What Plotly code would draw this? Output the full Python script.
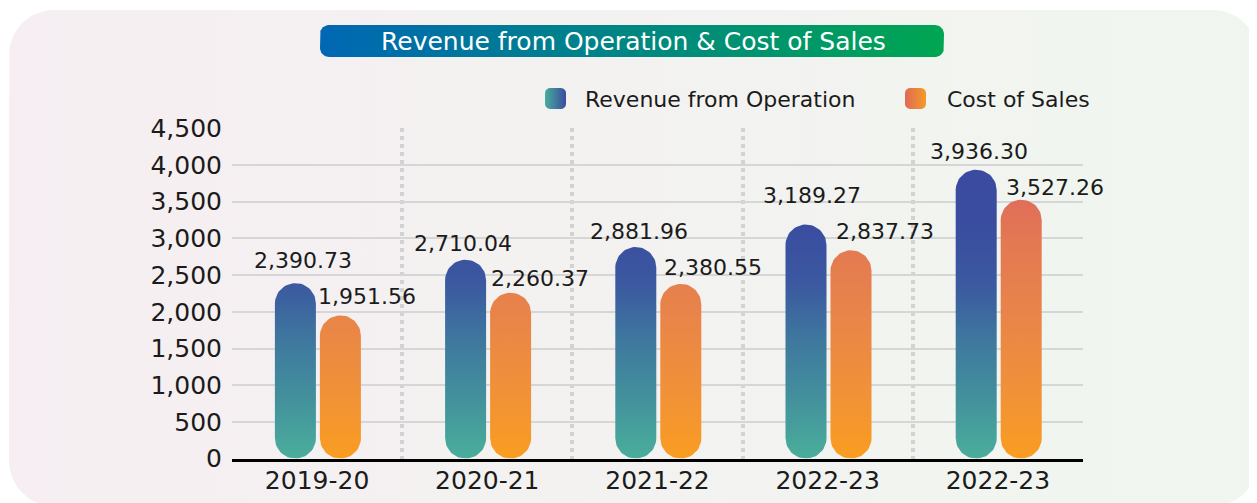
import numpy as np
import plotly.graph_objects as go

# ---------------- data ----------------
years = ["2019-20", "2020-21", "2021-22", "2022-23", "2022-23"]
revenue = [2390.73, 2710.04, 2881.96, 3189.27, 3936.30]
cost_of_sales = [1951.56, 2260.37, 2380.55, 2837.73, 3527.26]
series_names = ["Revenue from Operation", "Cost of Sales"]
y_ticks = [0, 500, 1000, 1500, 2000, 2500, 3000, 3500, 4000, 4500]
chart_title = "Revenue from Operation & Cost of Sales"

# ---------------- layout / style constants (screen px) ----------------
PAGE_OFF = 8                       # page body margin
W, H = 1257 - PAGE_OFF, 503 - PAGE_OFF
def sx(v): return v - PAGE_OFF
def sy(v): return v - PAGE_OFF

PL, PR, PT, PB = sx(232), sx(1083), sy(128.3), sy(458.6)   # plot area
Y_MAX = 4500
BAR_W_PX = 41
REV_OFF_PX, COST_OFF_PX = -21.7, 23.3
FONT = "DejaVu Sans"
TXT = "#1b1b1b"

REV_SCALE = [[0, "#4aae9b"], [0.2, "#43919c"], [0.4, "#3e789e"],
             [0.6, "#3b58a0"], [0.8, "#3a4ca0"], [1, "#3a4ba0"]]
COST_SCALE = [[0, "#f99d21"], [0.25, "#f0903a"], [0.5, "#e8844a"],
              [0.75, "#e37853"], [0.9, "#e06d5a"], [1, "#df6b5b"]]
GRAD_STOP = 4000

rev_dx = [7.7, -2.7, 3.0, 6.4, 2.3]
rev_dy = [23, 16.4, 15.4, 29.5, 18]
cost_dx = [26.7, 29.7, 31.7, 33.5, 33.7]
cost_dy = [18.7, 13.7, 16.2, 18.6, 12.2]

cat_px = (PR - PL) / len(years)
px_per_unit_y = (PB - PT) / Y_MAX
half_w = BAR_W_PX / 2 / cat_px
ry = (BAR_W_PX / 2) / px_per_unit_y
rev_off = REV_OFF_PX / cat_px
cost_off = COST_OFF_PX / cat_px


def pill(xc, v, hw, r, n=30):
    t1 = np.linspace(0, np.pi, n)
    t2 = np.linspace(np.pi, 2 * np.pi, n)
    xs = np.concatenate([xc + hw * np.cos(t1), xc + hw * np.cos(t2)])
    ys = np.concatenate([(v - r) + r * np.sin(t1), r + r * np.sin(t2)])
    return list(xs) + [xs[0]], list(ys) + [ys[0]]


def rrect(x0, x1, y0, y1, r, n=16):
    x0, x1, y0, y1 = sx(x0), sx(x1), sy(y0), sy(y1)
    pts = []
    for cx, cy, a0 in [(x1 - r, y0 + r, -np.pi / 2), (x1 - r, y1 - r, 0),
                       (x0 + r, y1 - r, np.pi / 2), (x0 + r, y0 + r, np.pi)]:
        t = np.linspace(a0, a0 + np.pi / 2, n)
        pts += list(zip(cx + r * np.cos(t), cy + r * np.sin(t)))
    pts.append(pts[0])
    return [p[0] for p in pts], [p[1] for p in pts]


fig = go.Figure()

def deco(x, y, c0, c1):
    fig.add_trace(go.Scatter(x=x, y=y, fill="toself", mode="lines",
                             line=dict(width=0), hoverinfo="skip", showlegend=False,
                             fillgradient=dict(type="horizontal",
                                               colorscale=[[0, c0], [1, c1]]),
                             xaxis="x", yaxis="y"))

deco(*rrect(9, 1258, 10, 506, 45), "#f6eef2", "#f0f6ef")
deco(*rrect(320, 944, 25, 57, 9), "#0067b4", "#00a651")
deco(*rrect(545, 566, 88, 109, 5), "#48ad9b", "#3a4ca0")
deco(*rrect(905, 926, 88, 109, 5), "#e06a57", "#f49b28")

for i, v in enumerate(revenue):
    x, y = pill(i + rev_off, v, half_w, ry)
    fig.add_trace(go.Scatter(x=x, y=y, fill="toself", mode="lines", line=dict(width=0),
                             name=series_names[0], legendgroup="rev", showlegend=False,
                             hoverinfo="skip",
                             fillgradient=dict(type="vertical", colorscale=REV_SCALE,
                                               start=0, stop=GRAD_STOP),
                             xaxis="x2", yaxis="y2"))
for i, v in enumerate(cost_of_sales):
    x, y = pill(i + cost_off, v, half_w, ry)
    fig.add_trace(go.Scatter(x=x, y=y, fill="toself", mode="lines", line=dict(width=0),
                             name=series_names[1], legendgroup="cost", showlegend=False,
                             hoverinfo="skip",
                             fillgradient=dict(type="vertical", colorscale=COST_SCALE,
                                               start=0, stop=GRAD_STOP),
                             xaxis="x2", yaxis="y2"))

annotations = []
for i, v in enumerate(revenue):
    annotations.append(dict(x=i + rev_off, y=v, xref="x2", yref="y2", text=f"{v:,.2f}",
                            showarrow=False, xshift=rev_dx[i], yshift=rev_dy[i],
                            font=dict(family=FONT, size=22, color=TXT)))
for i, v in enumerate(cost_of_sales):
    annotations.append(dict(x=i + cost_off, y=v, xref="x2", yref="y2", text=f"{v:,.2f}",
                            showarrow=False, xshift=cost_dx[i], yshift=cost_dy[i],
                            font=dict(family=FONT, size=22, color=TXT)))

annotations.append(dict(x=sx(633), y=sy(41), xref="x", yref="y", text=chart_title,
                        showarrow=False, font=dict(family=FONT, size=25, color="white")))
annotations.append(dict(x=sx(583), y=sy(99), xref="x", yref="y", text=series_names[0],
                        showarrow=False, xanchor="left",
                        font=dict(family=FONT, size=22, color=TXT)))
annotations.append(dict(x=sx(945), y=sy(99), xref="x", yref="y", text=series_names[1],
                        showarrow=False, xanchor="left",
                        font=dict(family=FONT, size=22, color=TXT)))

fig.update_layout(
    width=W, height=H,
    margin=dict(l=0, r=0, t=0, b=0, pad=0, autoexpand=False),
    paper_bgcolor="white", plot_bgcolor="rgba(0,0,0,0)",
    showlegend=False,
    font=dict(family=FONT, color=TXT),
    annotations=annotations,
    xaxis=dict(domain=[0, 1], range=[0, W], visible=False, fixedrange=True,
               automargin=False),
    yaxis=dict(domain=[0, 1], range=[H, 0], visible=False, fixedrange=True,
               automargin=False),
    xaxis2=dict(domain=[PL / W, PR / W], range=[-0.5, len(years) - 0.5], anchor="y2",
                tickmode="array", tickvals=list(range(len(years))), ticktext=years,
                showgrid=False, zeroline=False, showline=True, linecolor="black",
                linewidth=3, ticks="", ticklabelstandoff=-3, automargin=False,
                tickfont=dict(family=FONT, size=25, color=TXT),
                minor=dict(tickmode="array",
                           tickvals=[k + 0.5 for k in range(len(years) - 1)],
                           showgrid=True, griddash="dot", gridcolor="#d2d2d2",
                           gridwidth=4, ticks=""),
                fixedrange=True),
    yaxis2=dict(domain=[1 - PB / H, 1 - PT / H], range=[0, Y_MAX], anchor="x2",
                tickmode="array", tickvals=y_ticks, tickformat=",",
                showgrid=True, gridcolor="#d6d6d6", gridwidth=2,
                zeroline=False, showline=False, ticks="", ticklabelstandoff=9,
                automargin=False,
                tickfont=dict(family=FONT, size=25, color=TXT),
                fixedrange=True),
)

fig.write_html("out.html")
